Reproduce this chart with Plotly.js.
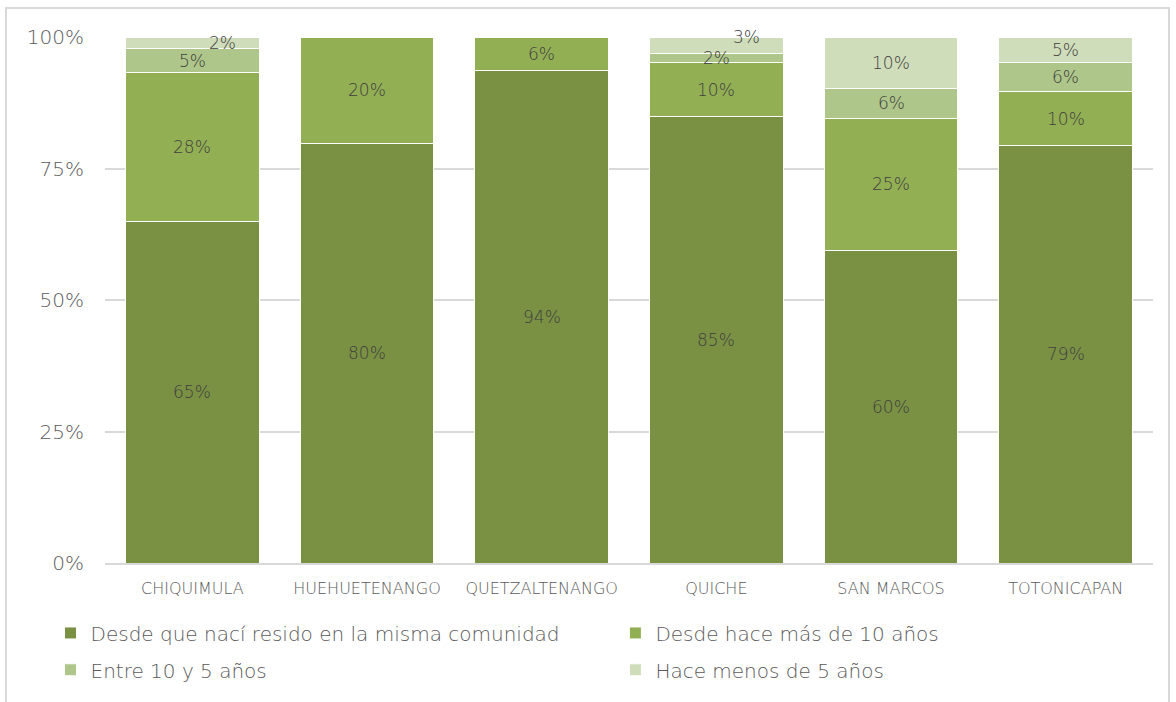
<!DOCTYPE html>
<html><head><meta charset="utf-8">
<script src="https://cdn.plot.ly/plotly-3.0.1.min.js"></script>
<style>
html,body{margin:0;padding:0;background:#fff;}
#wrap{position:relative;width:1176px;height:702px;}
#chart{width:1176px;height:702px;}
#frame{position:absolute;left:5px;top:7px;width:1165px;height:700px;border:2px solid #d9d9d9;box-sizing:border-box;pointer-events:none;}
</style></head>
<body><div id="wrap"><div id="chart"></div><div id="frame"></div></div>
<script>
const categories = ["CHIQUIMULA","HUEHUETENANGO","QUETZALTENANGO","QUICHE","SAN MARCOS","TOTONICAPAN"];
const seriesNames = ["Desde que nací resido en la misma comunidad","Desde hace más de 10 años","Entre 10 y 5 años","Hace menos de 5 años"];
const nacido   = [65.0, 79.8, 93.7, 84.8, 59.5, 79.3];
const mas10    = [28.2, 20.2, 6.3, 10.3, 25.1, 10.4];
const entre10y5 = [4.6, null, null, 1.7, 5.7, 5.5];
const menos5   = [2.2, null, null, 3.2, 9.7, 4.8];
const yTicks = [0,25,50,75,100];

const series = [nacido, mas10, entre10y5, menos5];
const colors = ["#7a9143","#93af54","#aec689","#d0ddbb"];
const FONT = 'DejaVu Sans, sans-serif';
const W = 300;
// label nudges (style only), keyed "series,category": [xshift, yshift]
const nudges = {"3,0":[30,0], "3,3":[30,8]};
const legendIds = ['legend','legend2','legend3','legend4'];
const legendPos = [[-0.052,-0.133],[0.487,-0.133],[-0.052,-0.203],[0.487,-0.203]];

const traces = series.map((vals,i)=>({
  type:'bar', name:seriesNames[i], x:categories, y:vals, legend:legendIds[i],
  marker:{color:colors[i], line:{color:'#ffffff', width:1}},
  hoverinfo:'none'
}));

const annotations = [];
const cum = categories.map(()=>0);
series.forEach((vals,i)=>{
  vals.forEach((v,j)=>{
    if(v===null) return;
    const mid = cum[j] + v/2;
    cum[j] += v;
    const n = nudges[i+","+j] || [0,0];
    annotations.push({x:categories[j], y:mid, text:Math.round(v)+'%', showarrow:false,
      xshift:n[0], yshift:n[1], font:{size:17, color:'#404040', family:FONT, weight:W}});
  });
});

const layout = {
  width:1176, height:702,
  margin:{l:105, r:23, t:37, b:139, autoexpand:false},
  barmode:'stack', bargap:0.233,
  paper_bgcolor:'#ffffff', plot_bgcolor:'#ffffff',
  font:{family:FONT, color:'#595959', weight:W},
  xaxis:{tickfont:{size:16, color:'#595959', family:FONT, weight:W}, showline:true, linecolor:'#d9d9d9', linewidth:2, ticks:'', ticklabelstandoff:10},
  yaxis:{range:[0,100], tickvals:yTicks, ticktext:yTicks.map(t=>t+'%'), tickfont:{size:20, color:'#595959', family:FONT, weight:W},
    showgrid:true, gridcolor:'#d9d9d9', gridwidth:2, zeroline:false, showline:false, ticklabelstandoff:20},
  showlegend:true,
  annotations:annotations
};
legendIds.forEach((id,i)=>{
  layout[id] = {x:legendPos[i][0], y:legendPos[i][1], xanchor:'left', yanchor:'middle', orientation:'h',
    font:{size:20, color:'#595959', family:FONT, weight:W}, itemwidth:30, bgcolor:'rgba(0,0,0,0)'};
});
Plotly.newPlot('chart', traces, layout, {staticPlot:true, displayModeBar:false});
</script></body></html>
